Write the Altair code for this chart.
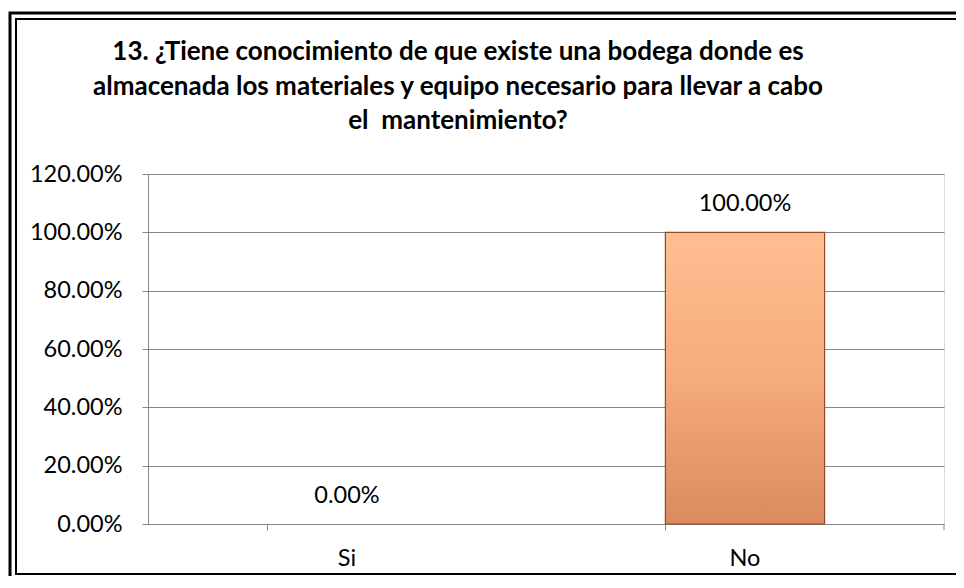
import altair as alt
import pandas as pd

categories = ["Si", "No"]
values = [0.0, 1.0]
labels = ["0.00%", "100.00%"]
title_text = ("13. ¿Tiene conocimiento de que existe una bodega donde es\n"
              "almacenada los materiales y equipo necesario para llevar a cabo\n"
              "el\u00a0 mantenimiento?")
y_ticks = [0, 0.2, 0.4, 0.6, 0.8, 1.0, 1.2]

df = pd.DataFrame({"cat": categories, "val": values, "lab": labels})
FONT = "Lato"
FS = 23.5

xenc = alt.X("cat:N", sort=categories,
             scale=alt.Scale(paddingInner=0.6, paddingOuter=0.3),
             axis=alt.Axis(title=None, labelAngle=0, labelFontSize=FS, labelFont=FONT,
                           labelColor="#000000", labelPadding=16, tickSize=6,
                           bandPosition=0, domainColor="#868686", tickColor="#868686",
                           grid=False))
yscale = alt.Scale(domain=[0, 1.2], nice=False)

bars = alt.Chart(df).mark_bar(
    fill=alt.Gradient(gradient="linear", x1=0, x2=0, y1=0, y2=1,
                      stops=[alt.GradientStop(offset=0, color="#FFBE92"),
                             alt.GradientStop(offset=0.5, color="#F6AB7B"),
                             alt.GradientStop(offset=1, color="#D98B5E")]),
    strokeWidth=1.2,
).encode(
    x=xenc,
    y=alt.Y("val:Q", scale=yscale,
            axis=alt.Axis(title=None, values=y_ticks, format=".2%", labelFontSize=FS,
                          labelFont=FONT, labelColor="#000000", labelPadding=20,
                          tickSize=6, domainColor="#868686", tickColor="#868686",
                          gridColor="#868686", gridWidth=1.2)),
    stroke=alt.condition("datum.val > 0", alt.value("#8B4A26"), alt.value("transparent")),
)

txt = alt.Chart(df).mark_text(
    font=FONT, fontSize=FS, color="#000000", dy=-28
).encode(x=alt.X("cat:N", sort=categories), y=alt.Y("val:Q", scale=yscale), text="lab:N")

frame_df = pd.DataFrame({"k": [0]})
title_mark = alt.Chart(frame_df).mark_text(
    text=title_text, lineBreak="\n", lineHeight=34.5, font=FONT, fontSize=26,
    fontWeight="bold", color="#000000", align="center", baseline="middle"
).encode(x=alt.value(310), y=alt.value(-122))
outer = alt.Chart(frame_df).mark_rect(fill=None, stroke="#000000", strokeWidth=3, clip=False).encode(
    x=alt.value(-138), x2=alt.value(840), y=alt.value(-161), y2=alt.value(440))
inner = alt.Chart(frame_df).mark_rect(fill=None, stroke="#000000", strokeWidth=2, clip=False).encode(
    x=alt.value(-132), x2=alt.value(840), y=alt.value(-155), y2=alt.value(400))
right_tick = alt.Chart(frame_df).mark_rule(color="#868686", strokeWidth=1).encode(
    x=alt.value(796), y=alt.value(350), y2=alt.value(356))

chart = alt.layer(bars, txt, right_tick, title_mark, outer, inner).properties(
    width=796, height=350,
    autosize=alt.AutoSizeParams(type="none"),
    padding={"left": 140, "top": 166, "right": 12, "bottom": 52},
).configure_view(stroke=None).configure(background="white")

chart.save("out.html", embed_options={"renderer": "svg", "actions": False})
